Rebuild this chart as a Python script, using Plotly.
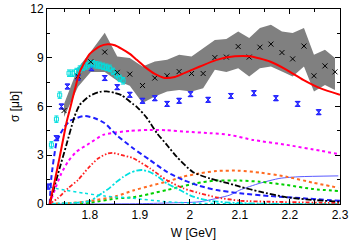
import plotly.graph_objects as go

# ---------------- data ----------------
# experimental points with systematic band (black x, grey band)
w_exp = [1.7486, 1.7766, 1.802, 1.830, 1.855, 1.880, 1.9054, 1.930, 1.9546, 1.9786, 2.0034, 2.0266,
         2.050, 2.073, 2.0966, 2.1186, 2.140, 2.162, 2.184, 2.2054, 2.228, 2.248, 2.270, 2.290]
s_exp = [5.75, 7.86, 8.75, 9.35, 8.10, 7.99, 7.29, 7.75, 7.89, 8.15, 8.03, 8.03,
         9.01, 9.04, 9.69, 9.04, 9.65, 9.84, 9.32, 8.93, 9.72, 7.89, 8.50, 8.13]
band_hi = [6.16, 8.38, 9.37, 10.54, 9.08, 8.98, 8.46, 8.77, 8.87, 9.18, 9.08, 9.59,
           10.10, 10.15, 10.62, 10.21, 10.83, 11.03, 10.62, 10.52, 10.83, 9.18, 9.49, 8.98]
band_lo = [5.36, 7.21, 8.13, 8.13, 7.58, 7.27, 6.22, 6.61, 6.92, 7.02, 6.92, 7.13,
           8.26, 8.13, 8.36, 7.84, 8.36, 8.46, 8.15, 7.84, 8.46, 6.92, 7.33, 7.02]

# blue data set
w_blue = [1.7166, 1.7334, 1.7434, 1.7554, 1.7766, 1.8034, 1.830, 1.855, 1.880, 1.9054,
          1.930, 1.9546, 1.9786, 2.0014, 2.0366, 2.082, 2.128, 2.172, 2.2154, 2.2574]
s_blue = [1.07, 4.05, 6.00, 7.23, 7.78, 8.36, 7.75, 7.19, 6.72, 6.35,
          6.51, 6.16, 6.35, 6.76, 6.41, 6.65, 6.82, 6.51, 6.16, 5.65]
e_blue = [0.15] * len(w_blue)

# cyan data set
w_cyan = [1.7234, 1.7334, 1.740, 1.7586, 1.766, 1.7734, 1.780, 1.7866, 1.7934, 1.800,
          1.8066, 1.8134, 1.820, 1.8266, 1.8334, 1.840, 1.8466, 1.8534, 1.860, 1.8666]
s_cyan = [3.64, 5.22, 6.70, 8.05, 8.05, 8.15, 8.30, 8.41, 8.50, 8.63,
          8.63, 8.56, 8.53, 8.47, 8.41, 8.35, 8.16, 7.95, 7.73, 7.58]
e_cyan = [0.2] * len(w_cyan)

# model curves
w_tot = [1.720, 1.730, 1.740, 1.7534, 1.760, 1.770, 1.780, 1.800, 1.820, 1.836, 1.850, 1.864,
         1.880, 1.894, 1.910, 1.930, 1.950, 1.970, 1.990, 2.020, 2.0534, 2.090, 2.120, 2.160,
         2.1934, 2.2266, 2.260, 2.300]
s_tot = [0.0, 1.42, 2.90, 4.99, 5.79, 7.02, 8.13, 9.24, 9.70, 9.83, 9.77, 9.55,
         9.24, 8.87, 8.44, 8.01, 7.76, 7.82, 8.07, 8.46, 8.87, 9.09, 9.09, 8.77,
         8.26, 7.64, 7.13, 6.72]

w_blk = [1.720, 1.740, 1.7534, 1.770, 1.780, 1.800, 1.820, 1.834, 1.850, 1.864, 1.886, 1.894,
         1.914, 1.934, 1.954, 1.974, 2.006, 2.040, 2.076, 2.100, 2.140, 2.194, 2.246, 2.300]
s_blk = [0.0, 2.22, 3.64, 5.42, 6.10, 6.65, 6.90, 6.93, 6.84, 6.69, 6.16, 5.98,
         5.30, 4.37, 3.64, 2.90, 1.97, 1.57, 1.28, 1.07, 0.76, 0.41, 0.25, 0.14]

w_bd = [1.720, 1.7234, 1.7334, 1.740, 1.750, 1.760, 1.7734, 1.790, 1.810, 1.830, 1.8534, 1.8866,
        1.920, 1.9534, 1.9866, 2.020, 2.0534, 2.100, 2.160, 2.2266, 2.300]
s_bd = [0.0, 1.66, 3.76, 4.25, 4.76, 5.11, 5.28, 5.42, 5.28, 4.97, 4.25, 3.43,
        2.71, 1.99, 1.48, 1.11, 0.86, 0.66, 0.49, 0.35, 0.20]

w_mag = [1.720, 1.730, 1.7434, 1.7566, 1.7734, 1.800, 1.8266, 1.8534, 1.880, 1.920, 1.9534,
         1.9934, 2.040, 2.080, 2.1266, 2.1934, 2.260, 2.300]
s_mag = [0.0, 0.86, 1.89, 2.61, 3.22, 3.74, 4.25, 4.41, 4.50, 4.56, 4.54,
         4.45, 4.36, 4.25, 3.94, 3.64, 3.28, 3.06]

w_rdd = [1.720, 1.736, 1.7566, 1.7766, 1.7966, 1.8166, 1.836, 1.8466, 1.8666, 1.8866, 1.920,
         1.9534, 1.9866, 2.020, 2.0534, 2.100, 2.160, 2.260, 2.300]
s_rdd = [0.0, 0.35, 0.97, 1.48, 2.20, 2.80, 3.11, 3.14, 2.99, 2.82, 2.20,
         1.48, 0.97, 0.66, 0.41, 0.20, 0.14, 0.08, 0.06]

w_cdd = [1.720, 1.760, 1.780, 1.800, 1.8134, 1.8266, 1.840, 1.8534, 1.8666, 1.880, 1.894, 1.9054,
         1.920, 1.934, 1.9534, 1.980, 2.0066, 2.040, 2.080, 2.150, 2.300]
s_cdd = [0.0, 0.06, 0.10, 0.18, 0.43, 0.71, 0.99, 1.36, 1.66, 1.91, 2.06, 2.09,
         1.97, 1.73, 1.28, 0.86, 0.45, 0.20, 0.08, 0.02, 0.0]

w_cdt = [1.720, 1.750, 1.790, 1.830, 1.8866, 1.9534, 2.020, 2.100, 2.300]
s_cdt = [1.03, 0.86, 0.66, 0.49, 0.35, 0.14, 0.04, 0.01, 0.0]

w_org = [1.720, 1.760, 1.800, 1.8534, 1.8866, 1.920, 1.9534, 1.9866, 2.020, 2.0534, 2.100,
         2.140, 2.1934, 2.2466, 2.2966]
s_org = [0.0, 0.05, 0.18, 0.49, 0.83, 1.11, 1.37, 1.68, 1.89, 2.03, 2.05,
         1.93, 1.68, 1.31, 1.00]

w_grn = [1.720, 1.800, 1.8534, 1.8866, 1.920, 1.9534, 1.980, 2.0134, 2.050, 2.100, 2.140,
         2.1934, 2.2466, 2.2966]
s_grn = [0.0, 0.08, 0.34, 0.41, 0.62, 0.86, 1.05, 1.28, 1.44, 1.44, 1.37,
         1.17, 0.92, 0.80]

w_tbl = [1.720, 1.900, 1.9534, 2.020, 2.080, 2.100, 2.140, 2.180, 2.220, 2.2966]
s_tbl = [0.0, 0.02, 0.06, 0.14, 0.55, 0.86, 1.28, 1.58, 1.68, 1.73]

x_ticks = [1.8, 1.9, 2.0, 2.1, 2.2, 2.3]
x_ticktext = ["1.8", "1.9", "2", "2.1", "2.2", "2.3"]
x_minor = [1.75, 1.85, 1.95, 2.05, 2.15, 2.25]
y_ticks = [0, 3, 6, 9, 12]
y_minor = [1.5, 4.5, 7.5, 10.5]

# ---------------- figure ----------------
fig = go.Figure()

# grey band
fig.add_trace(go.Scatter(x=w_exp, y=band_lo, mode="lines", line=dict(width=0, color="#808080"),
                         showlegend=False, hoverinfo="skip"))
fig.add_trace(go.Scatter(x=w_exp, y=band_hi, mode="lines", line=dict(width=0, color="#808080"),
                         fill="tonexty", fillcolor="#808080", showlegend=False, hoverinfo="skip"))

# data sets
fig.add_trace(go.Scatter(x=w_blue, y=s_blue, mode="markers",
                         marker=dict(symbol="hourglass", size=5, color="#4040ff",
                                     line=dict(width=1, color="#2020ff")),
                         error_y=dict(type="data", array=e_blue, color="#2020ff", thickness=1, width=2),
                         showlegend=False))
fig.add_trace(go.Scatter(x=w_cyan, y=s_cyan, mode="markers",
                         marker=dict(symbol="square-open", size=4, color="#00dede", line=dict(width=1)),
                         error_y=dict(type="data", array=e_cyan, color="#00dede", thickness=1, width=2),
                         showlegend=False))
fig.add_trace(go.Scatter(x=w_exp, y=s_exp, mode="markers",
                         marker=dict(symbol="x-thin", size=5, color="black", line=dict(width=1, color="black")),
                         showlegend=False))

# curves
curves = [
    (w_tbl, s_tbl, dict(color="#5a5aff", width=1, dash="solid")),
    (w_grn, s_grn, dict(color="#00d000", width=2, dash="dot")),
    (w_org, s_org, dict(color="#ff6a20", width=2, dash="dot")),
    (w_cdt, s_cdt, dict(color="#00e0e0", width=1.5, dash="dot")),
    (w_cdd, s_cdd, dict(color="#00e0e0", width=1.8, dash="6px,2px,2px,2px")),
    (w_rdd, s_rdd, dict(color="#ff2020", width=1.8, dash="4px,2px,1.5px,2px,1.5px,2px")),
    (w_mag, s_mag, dict(color="#ff00ff", width=2, dash="dot")),
    (w_bd, s_bd, dict(color="#1f1fff", width=2, dash="5px,3px")),
    (w_blk, s_blk, dict(color="black", width=1.8, dash="6px,2px,2px,2px")),
    (w_tot, s_tot, dict(color="#ff0000", width=2, dash="solid")),
]
for wx, sy, ln in curves:
    fig.add_trace(go.Scatter(x=wx, y=sy, mode="lines", line=dict(shape="spline", smoothing=0.6, **ln),
                             showlegend=False, hoverinfo="skip"))

axis_font = dict(family="Liberation Sans, Arial, sans-serif", size=12, color="black")

fig.update_layout(
    width=353, height=247,
    margin=dict(l=47, r=13, t=9, b=43, autoexpand=False),
    paper_bgcolor="white", plot_bgcolor="white",
    font=axis_font,
    showlegend=False,
)
fig.update_xaxes(
    range=[1.7146, 2.3], tickmode="array", tickvals=x_ticks, ticktext=x_ticktext,
    ticks="inside", ticklen=5, tickwidth=1, tickcolor="black",
    minor=dict(tickmode="array", tickvals=x_minor, ticks="inside", ticklen=3, tickcolor="black"),
    showline=True, linecolor="black", linewidth=1, mirror="allticks",
    showgrid=False, zeroline=False, tickfont=axis_font,
    title=dict(text="W [GeV]", font=axis_font, standoff=7),
)
fig.update_yaxes(
    range=[0, 12], tickmode="array", tickvals=y_ticks,
    ticks="inside", ticklen=5, tickwidth=1, tickcolor="black",
    minor=dict(tickmode="array", tickvals=y_minor, ticks="inside", ticklen=3, tickcolor="black"),
    showline=True, linecolor="black", linewidth=1, mirror="allticks",
    showgrid=False, zeroline=False, tickfont=axis_font,
    title=dict(text="σ [μb]", font=axis_font, standoff=8),
)

fig.write_html("out.html", config={"displayModeBar": False},
               post_script="document.body.style.margin='0';document.body.style.overflow='hidden';")
